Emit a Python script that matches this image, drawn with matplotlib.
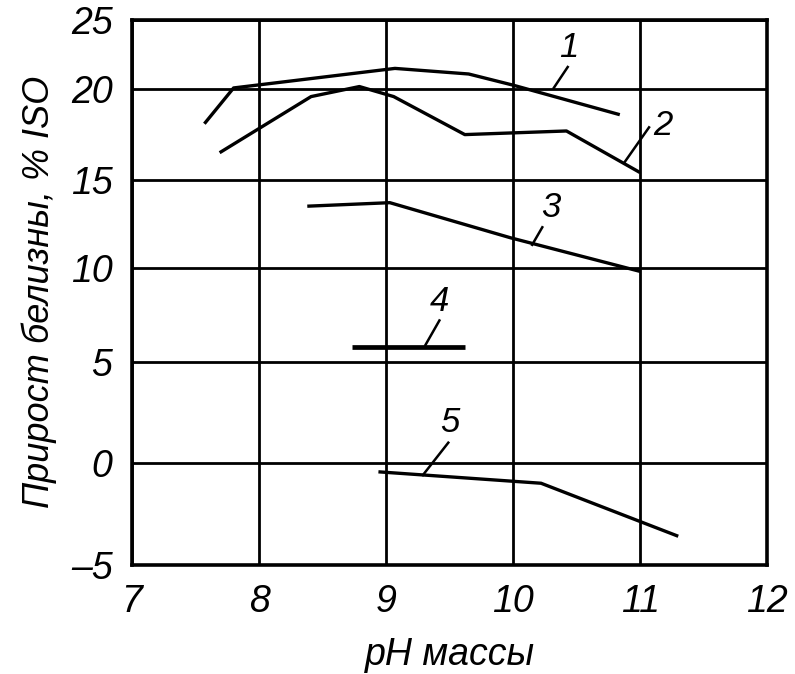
import numpy as np
import matplotlib
matplotlib.use('Agg')
import matplotlib.pyplot as plt

plt.rcParams['font.family'] = ['Liberation Sans', 'DejaVu Sans']
plt.rcParams['font.style'] = 'italic'

# кривые прироста белизны, % ISO
x1 = [7.57, 7.8, 9.07, 9.65, 10.0, 10.84]
y1 = [18.1, 20.1, 21.5, 21.1, 20.3, 18.6]
x2 = [7.69, 8.41, 8.79, 9.06, 9.62, 10.42, 11.0]
y2 = [16.5, 19.6, 20.2, 19.6, 17.5, 17.7, 15.4]
x3 = [8.38, 9.03, 9.98, 11.0]
y3 = [13.5, 13.7, 11.7, 9.8]
x4 = [8.73, 9.62]
y4 = [5.8, 5.8]
x5 = [8.94, 10.22, 11.3]
y5 = [-0.44, -1.0, -3.6]

curve_names = ['1', '2', '3', '4', '5']
label_pos = [(10.44, 23.0), (11.18, 18.0), (10.30, 13.4), (9.42, 8.2), (9.50, 2.0)]
leader_from = [(10.43, 21.6), (11.07, 17.9), (10.23, 12.3), (9.42, 7.2), (9.49, 1.0)]
leader_to = [(10.32, 20.1), (10.88, 16.0), (10.15, 11.3), (9.31, 5.9), (9.29, -0.6)]

xticks = [7, 8, 9, 10, 11, 12]
yticks = [-5, 0, 5, 10, 15, 20, 25]
# сетка на исходном рисунке нарисована неравномерно
ygrid_frac = [0.0, 0.187, 0.372, 0.545, 0.706, 0.872, 1.0]

def yfwd(v):
    return np.interp(v, yticks, ygrid_frac)

def yinv(f):
    return np.interp(f, ygrid_frac, yticks)

fig = plt.figure(figsize=(7.95, 6.74), dpi=100)
ax = fig.add_axes([0.166, 0.162, 0.799, 0.809])
ax.set_yscale('function', functions=(yfwd, yinv))

for x, y, lw in [(x1, y1, 2.4), (x2, y2, 2.4), (x3, y3, 2.4), (x4, y4, 3.4), (x5, y5, 2.4)]:
    ax.plot(x, y, color='black', lw=lw, solid_capstyle='butt', zorder=3)

for name, (lx, ly), (ax0, ay0), (ex, ey) in zip(curve_names, label_pos, leader_from, leader_to):
    ax.text(lx, ly, name, fontsize=25, ha='center', va='center')
    ax.plot([ax0, ex], [ay0, ey], color='black', lw=1.8, zorder=3)

ax.set_xlim(7, 12)
ax.set_ylim(-5, 25)
ax.set_xticks(xticks)
ax.set_yticks(yticks)
ax.set_yticklabels([str(t).replace('-', '\u2013') for t in yticks])
ax.grid(True, color='black', lw=2.0)
ax.set_axisbelow(True)
for s in ax.spines.values():
    s.set_linewidth(2.6)
ax.tick_params(length=0, labelsize=27, pad=14)
ax.set_xlabel('pH массы', fontsize=27, labelpad=12)
ax.set_ylabel('Прирост белизны, % ISO', fontsize=26, labelpad=10)

fig.savefig('out.png', dpi=100)
